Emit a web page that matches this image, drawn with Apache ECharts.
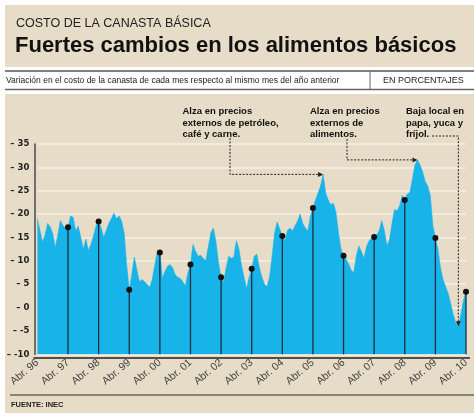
<!DOCTYPE html>
<html><head><meta charset="utf-8">
<script src="https://cdn.jsdelivr.net/npm/echarts@6/dist/echarts.min.js"></script>
<style>html,body{margin:0;padding:0;background:#fff}#c{width:474px;height:413px}</style>
</head><body><div id="c"></div>
<script>
// Monthly variation (%), April 1996 .. April 2010, one array per 12-month block
const y9697 = [19,16.5,14,15.5,18,17.3,15.8,12.8,15.5,18.6,17.6,16.8];
const y9798 = [17.2,19.6,19.3,16.4,17.4,15,12.5,14.6,12.2,13.5,15.3,17.5];
const y9899 = [18.4,17,15,16.5,18,19,20.2,19,19.6,18.5,16,9];
const y9900 = [3.8,7,10.8,8,5.5,6,5.5,5,4.3,6,9,12];
const y0001 = [11.8,6.2,7.7,8.8,9.2,8.5,7,6.5,6.2,5.5,4.6,7.5];
const y0102 = [9.2,13.5,12,11,11.2,10.5,10,13,16,17,14,9.5];
const y0203 = [6.5,5.5,8.5,11,10.5,10.8,14.3,12.5,9,6.5,4,6.5];
const y0304 = [8.3,11,11.4,8.5,6.5,5,4.5,6.5,11,16,18.3,16.8];
const y0405 = [15.3,14.3,16.5,17,16.4,17.5,18.5,20,18,17,16.4,19.5];
const y0506 = [21.3,23,24.5,26,28.5,24.5,23,22,22.3,20.5,16,12.5];
const y0607 = [11.1,10.3,9.3,8,7.5,11,13.2,12,10.5,13,14.3,14.8];
const y0708 = [15.1,15.5,16.5,18.6,16.4,13.2,14.5,18,21,20.7,21.8,24];
const y0809 = [23,24.3,24.6,27.5,30.5,31.6,30.5,29,27,26,24,17.5];
const y0910 = [14.9,12.5,8.5,6,4.5,3,0.8,-1.5,-3.3,-4,-1.5,1.5];
const y10 = [3.4];
const variation = [].concat(y9697,y9798,y9899,y9900,y0001,y0102,y0203,y0304,y0405,y0506,y0607,y0708,y0809,y0910,y10);

const monthNames = ['Abr','May','Jun','Jul','Ago','Sep','Oct','Nov','Dic','Ene','Feb','Mar'];
const tickLabels = ['Abr. 96','Abr. 97','Abr. 98','Abr. 99','Abr. 00','Abr. 01','Abr. 02','Abr. 03','Abr. 04','Abr. 05','Abr. 06','Abr. 07','Abr. 08','Abr. 09','Abr. 10'];
const categories = variation.map((v,i) => i % 12 === 0 ? tickLabels[i/12] : monthNames[i%12] + '. ' + String((1996 + Math.floor((i+3)/12)) % 100).padStart(2,'0'));
// April markers (stems) from Abr. 97 to Abr. 10
const stemIdx = [12,24,36,48,60,72,84,96,108,120,132,144,156,168];
// Annotation targets (index of month pointed at)
const notes = [
  {idx:112, lines:['Alza en precios','externos de petróleo,','café y carne.']},
  {idx:149, lines:['Alza en precios','externos de','alimentos.']},
  {idx:165, lines:['Baja local en','papa, yuca y','fríjol.']}
];

const BEIGE = '#e6dcc7';
const BLUE = '#18b4e9';
const chart = echarts.init(document.getElementById('c'), null, {renderer:'canvas'});
const F = 'Liberation Sans, Arial, sans-serif';

const option = {
  backgroundColor: '#ffffff',
  animation: false,
  grid: {left: 37.4, right: 8, top: 144, bottom: 58.7},
  xAxis: {
    type: 'category', data: categories, boundaryGap: false,
    axisLine: {show: false},
    axisTick: {show: false},
    splitLine: {show: false},
    axisLabel: {
      interval: (idx) => idx % 12 === 0,
      rotate: 40, margin: 7,
      fontFamily: F, fontSize: 10.5, color: '#444'
    }
  },
  yAxis: {
    type: 'value', min: -10, max: 35, interval: 5, offset: 3,
    axisLine: {show: true, lineStyle: {color: '#4a4a4a', width: 1.5}},
    axisTick: {show: false},
    splitLine: {show: true, lineStyle: {color: '#f4efe5', width: 1.5}},
    axisLabel: {
      margin: 5, formatter: (v) => '– ' + v,
      fontFamily: 'DejaVu Sans, sans-serif', fontWeight: 'bold', fontSize: 8.5, color: '#222'
    }
  },
  series: [
    {
      type: 'line', data: variation, symbol: 'none', z: 2,
      lineStyle: {width: 0.6, color: BLUE},
      areaStyle: {color: BLUE, opacity: 1, origin: 'start'}
    },
    {
      type: 'custom', z: 5,
      data: stemIdx.map(i => [i, variation[i]]),
      renderItem: (params, api) => {
        const p = api.coord([api.value(0), api.value(1)]);
        const b = api.coord([api.value(0), -10]);
        return {type: 'group', children: [
          {type: 'line', shape: {x1: p[0], y1: p[1], x2: b[0], y2: b[1]}, style: {stroke: '#1c2d3d', lineWidth: 1.3}},
          {type: 'circle', shape: {cx: p[0], cy: p[1], r: 3}, style: {fill: '#111'}}
        ]};
      }
    }
  ]
};
chart.setOption(option);

const pt = (i) => chart.convertToPixel({seriesIndex: 0}, [i, variation[i]]);
const p1 = pt(notes[0].idx), p2 = pt(notes[1].idx), p3 = pt(notes[2].idx);
const dash = {stroke: '#222', lineWidth: 1, lineDash: [2, 1.5], fill: null};
const noteFont = 'bold 9.5px ' + F;
const noteText = (x, lines) => ({type: 'text', z: 100, x: x, y: 106, style: {text: lines.join('\n'), font: noteFont, fill: '#111', lineHeight: 11.5, align: 'left', verticalAlign: 'top'}});

chart.setOption({graphic: [
  {type: 'rect', z: -10, shape: {x: 5, y: 5, width: 469, height: 62}, style: {fill: BEIGE}},
  {type: 'rect', z: -10, shape: {x: 5, y: 94, width: 469, height: 319}, style: {fill: BEIGE}},
  {type: 'line', z: 1, shape: {x1: 5, y1: 71, x2: 474, y2: 71}, style: {stroke: '#555', lineWidth: 1.5}},
  {type: 'line', z: 1, shape: {x1: 5, y1: 89.5, x2: 474, y2: 89.5}, style: {stroke: '#666', lineWidth: 1.5}},
  {type: 'line', z: 1, shape: {x1: 370, y1: 71, x2: 370, y2: 89.5}, style: {stroke: '#666', lineWidth: 1}},
  {type: 'text', z: 1, x: 16, y: 23.9, style: {text: 'COSTO DE LA CANASTA BÁSICA', font: '12.5px ' + F, fill: '#222', verticalAlign: 'middle'}},
  {type: 'text', z: 1, x: 15, y: 45.5, style: {text: 'Fuertes cambios en los alimentos básicos', font: 'bold 22px ' + F, fill: '#111', verticalAlign: 'middle'}},
  {type: 'text', z: 1, x: 6, y: 81, style: {text: 'Variación en el costo de la canasta de cada mes respecto al mismo mes del año anterior', font: '8.5px ' + F, fill: '#222', verticalAlign: 'middle'}},
  {type: 'text', z: 1, x: 383, y: 81, style: {text: 'EN PORCENTAJES', font: '9px ' + F, fill: '#222', verticalAlign: 'middle'}},
  {type: 'line', z: 1, shape: {x1: 33.5, y1: 358, x2: 470, y2: 358}, style: {stroke: '#55504a', lineWidth: 2}},
  {type: 'line', z: 1, shape: {x1: 10, y1: 395, x2: 474, y2: 395}, style: {stroke: '#6b6459', lineWidth: 1.5}},
  {type: 'text', z: 1, x: 11, y: 405, style: {text: 'FUENTE: INEC', font: 'bold 7.5px ' + F, fill: '#222', verticalAlign: 'middle'}},
  noteText(182.5, notes[0].lines),
  noteText(310, notes[1].lines),
  noteText(406, notes[2].lines),
  {type: 'polyline', z: 100, shape: {points: [[230, 138], [230, p1[1]], [p1[0] - 4, p1[1]]]}, style: dash},
  {type: 'polygon', z: 100, shape: {points: [[p1[0], p1[1]], [p1[0] - 5, p1[1] - 2.5], [p1[0] - 5, p1[1] + 2.5]]}, style: {fill: '#222'}},
  {type: 'polyline', z: 100, shape: {points: [[347, 139], [347, p2[1]], [p2[0] - 4, p2[1]]]}, style: dash},
  {type: 'polygon', z: 100, shape: {points: [[p2[0], p2[1]], [p2[0] - 5, p2[1] - 2.5], [p2[0] - 5, p2[1] + 2.5]]}, style: {fill: '#222'}},
  {type: 'polyline', z: 100, shape: {points: [[432, 136], [p3[0], 136], [p3[0], p3[1] - 4]]}, style: dash},
  {type: 'polygon', z: 100, shape: {points: [[p3[0], p3[1]], [p3[0] - 2.5, p3[1] - 5], [p3[0] + 2.5, p3[1] - 5]]}, style: {fill: '#222'}}
]});
</script>
</body></html>
